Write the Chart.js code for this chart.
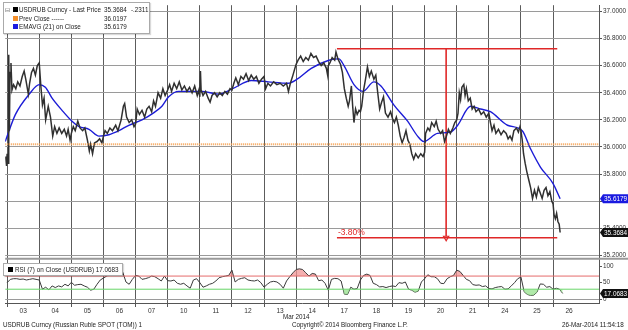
<!DOCTYPE html>
<html><head><meta charset="utf-8">
<script src="https://cdn.jsdelivr.net/npm/chart.js@4"></script>
<style>
html,body{margin:0;padding:0;background:#fff;}
#wrap{position:relative;width:628px;height:330px;overflow:hidden;font-family:'Liberation Sans',Arial,sans-serif;color:#222;}
canvas{position:absolute;left:0;top:0;}
.t{position:absolute;white-space:nowrap;font-size:6.3px;line-height:7px;}
.box{position:absolute;background:#fff;border:1px solid #aaa;box-shadow:1px 1px 1px rgba(0,0,0,0.15);}
.sq{position:absolute;width:5px;height:5px;}
</style></head>
<body><div id="wrap"><canvas id="c" width="628" height="330"></canvas>
<div class="box" style="left:3px;top:2px;width:145px;height:30px;">
 <div class="t" style="left:1px;top:3px;color:#666">&#8863;</div>
 <div class="sq" style="left:9px;top:4px;background:#000"></div>
 <div class="t" id="l1" style="left:15px;top:3px"></div>
 <div class="t" id="v1" style="left:100px;top:3px"></div>
 <div class="t" id="c1" style="left:127px;top:3px"></div>
 <div class="sq" style="left:9px;top:13px;background:#f5902a"></div>
 <div class="t" id="l2" style="left:15px;top:12px"></div>
 <div class="t" id="v2" style="left:100px;top:12px"></div>
 <div class="sq" style="left:9px;top:21px;background:#1a1ae0"></div>
 <div class="t" id="l3" style="left:15px;top:20px"></div>
 <div class="t" id="v3" style="left:100px;top:20px"></div>
</div>
<div class="box" style="left:3px;top:263px;width:118px;height:11px;">
 <div class="sq" style="left:4px;top:3px;background:#000"></div>
 <div class="t" id="lr" style="left:11px;top:2px"></div>
</div>
<div class="t" id="mon" style="left:283px;top:313px"></div>
<div class="t" id="f1" style="left:3px;top:321px"></div>
<div class="t" id="f2" style="left:292px;top:321px"></div>
<div class="t" id="f3" style="left:562px;top:321px"></div>
</div>
<script>
// ---------- data ----------
const dayLabels = ['03','04','05','06','07','10','11','12','13','14','17','18','19','20','21','24','25','26'];
const monthLabel = 'Mar 2014';
const priceTicks = [35.2,35.4,35.6,35.8,36.0,36.2,36.4,36.6,36.8,37.0];
const priceMinorTicks = [35.3,35.5,35.7,35.9,36.1,36.3,36.5,36.7,36.9];
const rsiTicks = [0,50,100];
const rsiUpper = 70, rsiLower = 30;
const lastPrice = 35.3684, priceChange = -0.2311, prevClose = 36.0197, lastEma = 35.6179, lastRsi = 17.0683;
// drop annotation (high, low, time span, arrow time)
const dropHigh = 36.725, dropLow = 35.33, dropStart = 10.27, dropEnd = 17.13, dropAt = 13.67;
// price: [time in trading days, price]
const priceSeries = [
[-0.05,35.93],[-0.02,35.86],[0.0,35.95],[0.03,35.88],[0.05,36.68],[0.07,36.12],[0.09,36.55],[0.12,36.62],[0.15,36.42],[0.2,36.46],[0.27,36.43],[0.33,36.48],[0.4,36.45],[0.47,36.52],[0.53,36.56],[0.58,36.5],[0.66,36.39],[0.7,36.47],[0.76,36.55],[0.82,36.58],[0.88,36.53],[0.94,36.6],[1.0,36.62],
[1.05,36.45],[1.1,36.31],[1.15,36.36],[1.2,36.2],[1.28,36.3],[1.35,36.22],[1.42,36.08],[1.48,36.15],[1.55,36.1],[1.62,36.14],[1.7,36.1],[1.78,36.13],[1.85,36.08],[1.9,36.13],[1.96,36.05],[2.0,36.1],
[2.06,36.15],[2.12,36.12],[2.2,36.19],[2.27,36.14],[2.35,36.12],[2.42,36.14],[2.5,36.05],[2.56,35.97],[2.6,36.02],[2.66,35.95],[2.72,36.03],[2.8,36.04],[2.88,36.06],[2.95,36.03],[3.0,36.08],
[3.05,36.12],[3.12,36.1],[3.2,36.14],[3.28,36.12],[3.38,36.16],[3.45,36.12],[3.55,36.2],[3.62,36.3],[3.66,36.32],[3.72,36.22],[3.8,36.18],[3.88,36.2],[3.95,36.15],[4.0,36.17],
[4.05,36.28],[4.12,36.24],[4.2,36.27],[4.28,36.22],[4.35,36.28],[4.42,36.3],[4.5,36.26],[4.56,36.34],[4.62,36.3],[4.7,36.4],[4.78,36.36],[4.85,36.43],[4.92,36.38],[5.0,36.42],
[5.06,36.46],[5.12,36.41],[5.2,36.47],[5.28,36.43],[5.36,36.48],[5.44,36.42],[5.52,36.45],[5.6,36.41],[5.68,36.44],[5.76,36.4],[5.84,36.45],[5.92,36.38],[5.97,36.42],[6.0,36.37],
[6.02,36.56],[6.04,36.42],[6.1,36.38],[6.18,36.41],[6.26,36.36],[6.32,36.33],[6.38,36.38],[6.46,36.4],[6.54,36.37],[6.62,36.4],[6.7,36.38],[6.78,36.41],[6.86,36.39],[6.94,36.43],[7.0,36.42],
[7.06,36.47],[7.12,36.51],[7.2,36.46],[7.28,36.52],[7.36,36.5],[7.44,36.54],[7.52,36.49],[7.6,36.53],[7.68,36.5],[7.76,36.52],[7.84,36.47],[7.92,36.5],[8.0,36.52],
[8.05,36.43],[8.12,36.47],[8.2,36.45],[8.3,36.48],[8.4,36.46],[8.5,36.47],[8.6,36.45],[8.7,36.47],[8.76,36.41],[8.82,36.47],[8.9,36.53],[8.96,36.58],[9.0,36.61],
[9.06,36.64],[9.14,36.67],[9.22,36.63],[9.3,36.66],[9.38,36.64],[9.46,36.69],[9.54,36.66],[9.62,36.67],[9.7,36.63],[9.78,36.6],[9.86,36.62],[9.94,36.58],[9.98,36.53],[10.0,36.6],
[10.05,36.62],[10.12,36.66],[10.2,36.64],[10.24,36.70],[10.3,36.65],[10.38,36.61],[10.44,36.55],[10.5,36.43],[10.56,36.36],[10.62,36.3],[10.66,36.34],[10.72,36.45],[10.76,36.3],[10.8,36.18],[10.85,36.28],[10.9,36.24],[10.96,36.27],[11.0,36.26],
[11.04,36.3],[11.1,36.42],[11.16,36.5],[11.22,36.59],[11.28,36.52],[11.34,36.56],[11.42,36.5],[11.48,36.53],[11.54,36.4],[11.6,36.28],[11.66,36.33],[11.72,36.37],[11.78,36.25],[11.86,36.22],[11.94,36.26],[12.0,36.21],
[12.06,36.18],[12.12,36.22],[12.18,36.16],[12.24,36.08],[12.3,36.03],[12.36,36.07],[12.42,36.12],[12.48,36.05],[12.54,36.02],[12.6,35.95],[12.66,35.91],[12.72,35.95],[12.8,35.92],[12.88,35.95],[12.95,35.93],[13.0,35.96],
[13.03,36.1],[13.1,36.14],[13.16,36.12],[13.22,36.18],[13.3,36.15],[13.36,36.19],[13.42,36.13],[13.5,36.1],[13.56,36.12],[13.62,36.04],[13.68,36.08],[13.74,36.13],[13.8,36.1],[13.88,36.14],[13.94,36.18],[14.0,36.2],
[14.04,36.25],[14.08,36.4],[14.12,36.35],[14.16,36.44],[14.22,36.46],[14.26,36.38],[14.3,36.43],[14.36,36.34],[14.42,36.36],[14.48,36.28],[14.54,36.3],[14.6,36.26],[14.68,36.28],[14.76,36.24],[14.84,36.26],[14.92,36.22],[15.0,36.25],
[15.05,36.18],[15.1,36.12],[15.16,36.16],[15.22,36.1],[15.3,36.13],[15.38,36.09],[15.46,36.12],[15.54,36.1],[15.6,36.06],[15.66,36.08],[15.72,36.05],[15.78,36.12],[15.86,36.14],[15.92,36.11],[15.97,36.15],[16.0,36.12],
[16.04,36.05],[16.08,35.95],[16.13,35.88],[16.18,35.82],[16.24,35.76],[16.3,35.7],[16.36,35.62],[16.42,35.68],[16.48,35.63],[16.54,35.7],[16.6,35.66],[16.66,35.62],[16.72,35.68],[16.78,35.7],[16.84,35.64],[16.9,35.67],[16.96,35.6],[17.0,35.58],
[17.03,35.5],[17.07,35.47],[17.11,35.51],[17.15,35.45],[17.19,35.43],[17.22,35.3684]
];
// EMAVG(21): [time, value]
const emaSeries = [
[-0.06,36.04],[0.26,36.24],[0.69,36.39],[1.0,36.46],[1.19,36.44],[1.4,36.36],[1.71,36.27],[2.02,36.19],[2.24,36.15],[2.55,36.13],[2.86,36.08],[3.17,36.09],[3.48,36.12],[3.79,36.16],[4.2,36.2],[4.55,36.25],[4.82,36.3],[5.03,36.37],[5.34,36.41],[6.06,36.41],[6.58,36.39],[7.02,36.43],[7.61,36.49],[8.13,36.48],[8.75,36.47],[9.03,36.5],[9.47,36.58],[10.02,36.64],[10.33,36.65],[10.49,36.6],[10.8,36.46],[11.08,36.41],[11.42,36.48],[11.64,36.45],[12.04,36.31],[12.47,36.19],[12.78,36.08],[12.97,36.04],[13.4,36.1],[13.81,36.11],[14.03,36.16],[14.43,36.3],[14.74,36.28],[15.05,36.26],[15.58,36.16],[16.04,36.12],[16.29,35.99],[16.61,35.85],[17.0,35.73],[17.22,35.6179]
];
// RSI(7), sampled every 0.1 trading day
const rsiStep = 0.1;
const rsiValues = [50,60,62,62,60,61,58,60,62,60, 58,30,36,28,40,35,40,37,45,40, 51,42,44,45,40,36,27,30,45,58,
 64,70,75,82,86,90,82,52,45,60, 72,70,60,62,65,70,68,62,55,70, 56,55,58,48,45,48,40,33,58,62,
 50,36,40,45,48,55,65,68,70,72, 88,52,60,63,65,58,56,55,58,50, 36,45,52,54,52,45,33,55,68,80,
 90,92,90,80,70,78,76,56,58,48, 27,60,63,62,55,15,14,36,30,32, 58,72,76,72,48,44,37,38,35,38,
 40,38,50,48,52,30,27,21,24,52, 62,74,68,68,62,48,47,62,68,72, 88,84,72,60,56,44,42,43,38,40,
 32,31,35,37,38,30,31,40,50,62, 67,22,14,11,12,21,46,45,36,38, 30,33,30,17.0683];

// ---------- texts ----------
document.getElementById('l1').textContent = 'USDRUB Curncy - Last Price';
document.getElementById('v1').textContent = lastPrice.toFixed(4);
document.getElementById('c1').textContent = priceChange.toFixed(4).replace('0.', '.');
document.getElementById('l2').textContent = 'Prev Close ------';
document.getElementById('v2').textContent = prevClose.toFixed(4);
document.getElementById('l3').textContent = 'EMAVG (21) on Close';
document.getElementById('v3').textContent = lastEma.toFixed(4);
document.getElementById('lr').textContent = 'RSI (7) on Close (USDRUB) ' + lastRsi.toFixed(4);
document.getElementById('mon').textContent = monthLabel;
document.getElementById('f1').textContent = 'USDRUB Curncy (Russian Ruble SPOT (TOM)) 1';
document.getElementById('f2').textContent = 'Copyright\u00A9 2014 Bloomberg Finance L.P.';
document.getElementById('f3').textContent = '26-Mar-2014 11:54:18';

// ---------- chart ----------
const X_MIN = -0.06, X_MAX = 18.43;
const FONT = "'Liberation Sans', Arial, sans-serif";
Chart.defaults.font.family = FONT;
const xy = a => a.map(p => ({x: p[0], y: p[1]}));
const rsiPts = rsiValues.map((v, i) => ({x: i * rsiStep, y: v}));
const hline = (v) => [{x: X_MIN, y: v}, {x: X_MAX, y: v}];

const overlay = {
  id: 'overlay',
  afterDraw(chart) {
    const {ctx, chartArea: ca, scales} = chart;
    const y = scales.y, yR = scales.yR, x = scales.x;
    ctx.save();
    // panel separator
    ctx.strokeStyle = '#9a9a9a'; ctx.lineWidth = 2;
    ctx.beginPath(); ctx.moveTo(ca.left, y.bottom + 0.5); ctx.lineTo(ca.right + 29, y.bottom + 0.5); ctx.stroke();
    // percent text
    const pct = ((dropLow / dropHigh - 1) * 100).toFixed(2) + '%';
    ctx.fillStyle = '#e02828'; ctx.font = '8.5px ' + FONT; ctx.textBaseline = 'bottom'; ctx.textAlign = 'left';
    ctx.fillText(pct, x.getPixelForValue(dropStart) + 1, y.getPixelForValue(dropLow) - 1);
    // value tags
    const tag = (py, text, bg) => {
      const x0 = ca.right + 1;
      ctx.fillStyle = bg;
      ctx.beginPath();
      ctx.moveTo(x0, py); ctx.lineTo(x0 + 3, py - 4.5); ctx.lineTo(628, py - 4.5); ctx.lineTo(628, py + 4.5); ctx.lineTo(x0 + 3, py + 4.5); ctx.closePath(); ctx.fill();
      ctx.fillStyle = '#fff'; ctx.font = '6.4px ' + FONT; ctx.textBaseline = 'middle'; ctx.textAlign = 'left';
      ctx.fillText(text, x0 + 4, py + 0.5);
    };
    tag(y.getPixelForValue(lastEma), lastEma.toFixed(4), '#1a1ae0');
    tag(y.getPixelForValue(lastPrice), lastPrice.toFixed(4), '#111');
    tag(yR.getPixelForValue(lastRsi), lastRsi.toFixed(4), '#111');
    ctx.restore();
  }
};

new Chart(document.getElementById('c'), {
  type: 'line',
  data: {
    datasets: [
      {data: hline(prevClose), borderColor: '#f5a050', borderWidth: 2, borderDash: [1, 1], pointRadius: 0, yAxisID: 'y'},
      {data: xy(priceSeries), borderColor: '#303030', borderWidth: 1.5, pointRadius: 0, yAxisID: 'y'},
      {data: xy(emaSeries), borderColor: '#1c1cd6', borderWidth: 1.4, pointRadius: 0, cubicInterpolationMode: 'monotone', yAxisID: 'y'},
      {data: [{x: dropStart, y: dropHigh}, {x: dropEnd, y: dropHigh}], borderColor: '#e02828', borderWidth: 1.6, pointRadius: 0, yAxisID: 'y'},
      {data: [{x: dropStart, y: dropLow}, {x: dropEnd, y: dropLow}], borderColor: '#e02828', borderWidth: 1.6, pointRadius: 0, yAxisID: 'y'},
      {data: [{x: dropAt, y: dropHigh}, {x: dropAt, y: dropLow}], borderColor: '#e02828', borderWidth: 1.6,
        pointRadius: [0, 3], pointStyle: 'triangle', rotation: 180, pointBackgroundColor: '#fff', pointBorderColor: '#e02828', pointBorderWidth: 1.2, yAxisID: 'y'},
      {data: hline(rsiUpper), borderColor: '#e56a6a', borderWidth: 1, pointRadius: 0, yAxisID: 'yR'},
      {data: hline(rsiLower), borderColor: '#6ad66a', borderWidth: 1, pointRadius: 0, yAxisID: 'yR'},
      {data: rsiPts, borderColor: 'rgba(0,0,0,0)', borderWidth: 0, pointRadius: 0, yAxisID: 'yR',
        fill: {target: {value: rsiLower}, above: 'rgba(0,0,0,0)', below: 'rgba(150,225,140,0.75)'}},
      {data: rsiPts, borderColor: '#3a3a3a', borderWidth: 1, pointRadius: 0, yAxisID: 'yR',
        fill: {target: {value: rsiUpper}, above: 'rgba(240,150,150,0.75)', below: 'rgba(0,0,0,0)'}}
    ]
  },
  options: {
    responsive: false, animation: false, parsing: false,
    layout: {padding: {left: 3, top: 3, right: 0, bottom: 0}},
    plugins: {legend: {display: false}, tooltip: {enabled: false}},
    elements: {line: {tension: 0}},
    scales: {
      x: {
        type: 'linear', min: X_MIN, max: X_MAX, position: 'bottom',
        afterBuildTicks: s => { s.ticks = dayLabels.map((_, i) => ({value: i})); },
        afterFit: s => { s.height = 27; },
        ticks: {autoSkip: false, maxRotation: 0, padding: 0, labelOffset: 16, color: '#333', font: {size: 6.6},
          callback: v => dayLabels[v]},
        grid: {color: '#5c5c5c', borderDash: [4, 3], lineWidth: 1, drawTicks: true, tickLength: 4, tickColor: '#555'},
        border: {display: true, color: '#555', width: 1}
      },
      y: {
        type: 'linear', position: 'right', stack: 'panels', stackWeight: 255, weight: 1,
        min: 35.178, max: 37.046,
        afterBuildTicks: s => { s.ticks = priceTicks.concat(priceMinorTicks).sort((a, b) => a - b).map(v => ({value: v})); },
        afterFit: s => { s.width = 29; },
        ticks: {padding: 1, color: '#333', font: {size: 6.4},
          callback: v => priceTicks.some(t => Math.abs(t - v) < 1e-6) ? v.toFixed(4) : ''},
        grid: {color: c => priceTicks.some(t => Math.abs(t - c.tick.value) < 1e-6) ? '#9a9a9a' : 'rgba(0,0,0,0)',
          borderDash: [1, 2], tickColor: '#555', tickLength: 3, drawTicks: true},
        border: {display: true, color: '#555', width: 1}
      },
      yR: {
        type: 'linear', position: 'right', stack: 'panels', stackWeight: 45, weight: 2,
        min: -12, max: 124,
        afterBuildTicks: s => { s.ticks = rsiTicks.map(v => ({value: v})); },
        afterFit: s => { s.width = 29; },
        ticks: {padding: 1, color: '#333', font: {size: 6.4}, callback: v => String(v)},
        grid: {color: c => c.tick.value === 0 ? '#9a9a9a' : 'rgba(0,0,0,0)', borderDash: [1, 2], tickColor: '#555', tickLength: 3},
        border: {display: true, color: '#555', width: 1}
      }
    }
  },
  plugins: [overlay]
});
</script></body></html>
